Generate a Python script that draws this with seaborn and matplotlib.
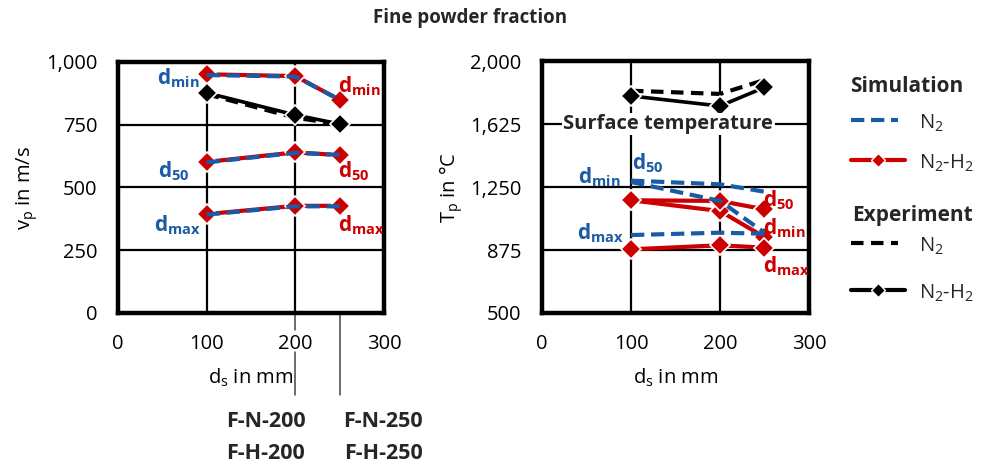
import matplotlib
matplotlib.use("Agg")
import matplotlib.pyplot as plt
import seaborn as sns
from matplotlib.lines import Line2D

sns.set_theme(style="white")
plt.rcParams["font.family"] = ["Open Sans", "DejaVu Sans"]
plt.rcParams["mathtext.fontset"] = "custom"
plt.rcParams["mathtext.rm"] = "Open Sans"
plt.rcParams["mathtext.it"] = "Open Sans:italic"
plt.rcParams["mathtext.bf"] = "Open Sans:bold"

# spray distance in mm
ds = [100, 200, 250]

# particle velocity in m/s
v_sim_n2_dmin = [948, 942, 850]
v_sim_n2_d50 = [600, 638, 630]
v_sim_n2_dmax = [392, 425, 425]
v_sim_h2_dmin = [951, 944, 849]
v_sim_h2_d50 = [602, 640, 629]
v_sim_h2_dmax = [394, 427, 427]
v_exp_n2 = [872, 778, 752]
v_exp_h2 = [877, 789, 753]

# particle temperature in degC
t_sim_n2_dmin = [1280, 1167, 978]
t_sim_n2_d50 = [1288, 1266, 1222]
t_sim_n2_dmax = [964, 978, 972]
t_sim_h2_dmin = [1171, 1107, 952]
t_sim_h2_d50 = [1171, 1167, 1117]
t_sim_h2_dmax = [879, 903, 889]
t_exp_n2 = [1823, 1804, 1887]
t_exp_h2 = [1792, 1732, 1843]

v_ticks = [0, 250, 500, 750, 1000]
t_ticks = [500, 875, 1250, 1625, 2000]
x_ticks = [0, 100, 200, 300]

BLUE = "#1b5aa5"
RED = "#cc0000"
DASH = (0, (3.2, 1.6))
DASH_K = (0, (3.0, 1.8))

W, H = 987, 465
fig = plt.figure(figsize=(W / 100, H / 100), dpi=100)


def px_axes(x0, y0, x1, y1):
    return fig.add_axes([x0 / W, 1 - y1 / H, (x1 - x0) / W, (y1 - y0) / H])


ax1 = px_axes(118, 62, 384, 313)
ax2 = px_axes(542, 61, 809, 313)


def style_axes(ax, yticks, ylabels):
    ax.set_xlim(0, 300)
    ax.set_ylim(yticks[0], yticks[-1])
    ax.set_xticks(x_ticks)
    ax.set_xticklabels([str(t) for t in x_ticks])
    ax.set_yticks(yticks)
    ax.set_yticklabels(ylabels)
    ax.tick_params(axis="both", length=0, labelsize=14.5, colors="black")
    ax.tick_params(axis="y", pad=15)
    ax.tick_params(axis="x", pad=15)
    ax.grid(True, color="black", linewidth=1.6)
    ax.set_axisbelow(True)
    for s in ax.spines.values():
        s.set_color("black")
        s.set_linewidth(3.2)
        s.set_zorder(5)


def sim_lines(ax, h2_series, n2_series):
    for ys in h2_series:
        sns.lineplot(x=ds, y=ys, ax=ax, color=RED, linewidth=3, marker="D",
                     markersize=10, markeredgecolor="white", markeredgewidth=1.2,
                     zorder=3)
    for ys in n2_series:
        sns.lineplot(x=ds, y=ys, ax=ax, color=BLUE, linewidth=3,
                     linestyle=DASH, zorder=4)


def exp_lines(ax, n2, h2):
    sns.lineplot(x=ds, y=n2, ax=ax, color="black", linewidth=3,
                 linestyle=DASH_K, zorder=3)
    sns.lineplot(x=ds, y=h2, ax=ax, color="black", linewidth=2.6, marker="D",
                 markersize=10, markeredgecolor="white", markeredgewidth=1.2,
                 zorder=3)


# velocity panel
style_axes(ax1, v_ticks, ["0", "250", "500", "750", "1,000"])
sim_lines(ax1, [v_sim_h2_dmin, v_sim_h2_d50, v_sim_h2_dmax],
          [v_sim_n2_dmin, v_sim_n2_d50, v_sim_n2_dmax])
exp_lines(ax1, v_exp_n2, v_exp_h2)
ax1.set_xlabel(r"d$_\mathrm{s}$ in mm", fontsize=14.5, color="black")
ax1.set_ylabel(r"v$_\mathrm{p}$ in m/s", fontsize=14.5, color="black")
ax1.xaxis.set_label_coords(0.5, -0.215)
ax1.yaxis.set_label_coords(-0.293, 0.5)

lab_kw = dict(fontsize=15, va="center", zorder=6)
ax1.text(92, 936, r"$\mathbf{d}_{\mathbf{min}}$", color=BLUE, ha="right", **lab_kw)
ax1.text(81, 563, r"$\mathbf{d}_{\mathbf{50}}$", color=BLUE, ha="right", **lab_kw)
ax1.text(94, 350, r"$\mathbf{d}_{\mathbf{max}}$", color=BLUE, ha="right", **lab_kw)
ax1.text(248, 902, r"$\mathbf{d}_{\mathbf{min}}$", color=RED, ha="left", **lab_kw)
ax1.text(248, 563, r"$\mathbf{d}_{\mathbf{50}}$", color=RED, ha="left", **lab_kw)
ax1.text(248, 350, r"$\mathbf{d}_{\mathbf{max}}$", color=RED, ha="left", **lab_kw)

# temperature panel
style_axes(ax2, t_ticks, ["500", "875", "1,250", "1,625", "2,000"])
sim_lines(ax2, [t_sim_h2_dmin, t_sim_h2_d50, t_sim_h2_dmax],
          [t_sim_n2_dmin, t_sim_n2_d50, t_sim_n2_dmax])
exp_lines(ax2, t_exp_n2, t_exp_h2)
ax2.set_xlabel(r"d$_\mathrm{s}$ in mm", fontsize=14.5, color="black")
ax2.set_ylabel(r"T$_\mathrm{p}$ in °C", fontsize=14.5, color="black")
ax2.xaxis.set_label_coords(0.5, -0.215)
ax2.yaxis.set_label_coords(-0.288, 0.5)

ax2.text(142, 1625, "Surface temperature", fontsize=14.5, fontweight="bold",
         ha="center", va="center", zorder=6,
         bbox=dict(facecolor="white", edgecolor="none", pad=1.0))
ax2.text(88, 1311, r"$\mathbf{d}_{\mathbf{min}}$", color=BLUE, ha="right", **lab_kw)
ax2.text(101, 1391, r"$\mathbf{d}_{\mathbf{50}}$", color=BLUE, ha="left", **lab_kw)
ax2.text(92, 974, r"$\mathbf{d}_{\mathbf{max}}$", color=BLUE, ha="right", **lab_kw)
ax2.text(248, 1173, r"$\mathbf{d}_{\mathbf{50}}$", color=RED, ha="left", **lab_kw)
ax2.text(248, 1004, r"$\mathbf{d}_{\mathbf{min}}$", color=RED, ha="left", **lab_kw)
ax2.text(248, 776, r"$\mathbf{d}_{\mathbf{max}}$", color=RED, ha="left", **lab_kw)

# overlay in pixel coordinates for title, legend and case labels
ov = fig.add_axes([0, 0, 1, 1], zorder=-1)
ov.set_xlim(0, W)
ov.set_ylim(H, 0)
ov.axis("off")
ov.patch.set_alpha(0)

fig.text(470 / W, 1 - 18 / H, "Fine powder fraction", fontsize=13.5,
         fontweight="bold", ha="center", va="center")

# case markers below the velocity panel
ov.add_line(Line2D([295, 295], [313, 330], color="#444444", linewidth=1.1))
ov.add_line(Line2D([295, 295], [352, 395], color="#444444", linewidth=1.1))
ov.add_line(Line2D([340, 340], [313, 395], color="#444444", linewidth=1.1))
case_kw = dict(fontsize=15.5, fontweight="bold", ha="center", va="center")
ov.text(266, 421, "F-N-200", **case_kw)
ov.text(266, 453, "F-H-200", **case_kw)
ov.text(383, 421, "F-N-250", **case_kw)
ov.text(383, 453, "F-H-250", **case_kw)

# legend
lg = fig.add_axes([0, 0, 1, 1], zorder=2)
lg.set_xlim(0, W)
lg.set_ylim(H, 0)
lg.axis("off")
lg.patch.set_alpha(0)
lg.text(850, 87, "Simulation", fontsize=15, fontweight="bold", va="center")
lg.add_line(Line2D([851, 898], [120, 120], color=BLUE, linewidth=3, linestyle=DASH))
lg.text(919, 123, r"N$_2$", fontsize=14.5, va="center")
lg.add_line(Line2D([851, 905], [160, 160], color=RED, linewidth=3))
lg.add_line(Line2D([878], [160], color=RED, marker="D", markersize=7,
                   markeredgecolor="white", markeredgewidth=1.0))
lg.text(919, 163, r"N$_2$-H$_2$", fontsize=14.5, va="center")
lg.text(852, 215, "Experiment", fontsize=15, fontweight="bold", va="center")
lg.add_line(Line2D([851, 898], [243, 243], color="black", linewidth=3, linestyle=DASH_K))
lg.text(919, 246, r"N$_2$", fontsize=14.5, va="center")
lg.add_line(Line2D([851, 905], [290, 290], color="black", linewidth=3))
lg.add_line(Line2D([878], [290], color="black", marker="D", markersize=7,
                   markeredgecolor="white", markeredgewidth=1.0))
lg.text(919, 293, r"N$_2$-H$_2$", fontsize=14.5, va="center")

fig.savefig("out.png", dpi=100, facecolor="white")
